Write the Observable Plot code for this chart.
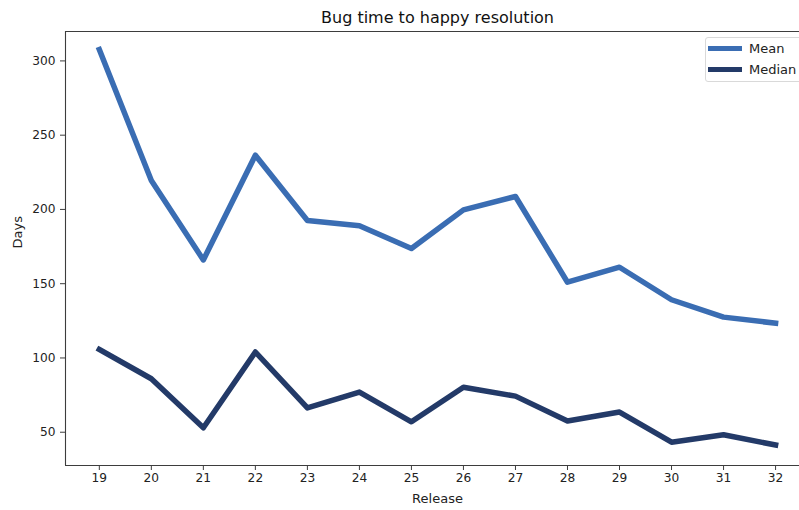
<!DOCTYPE html>
<html>
<head>
<meta charset="utf-8">
<script src="https://cdn.jsdelivr.net/npm/d3@7"></script>
<script src="https://cdn.jsdelivr.net/npm/@observablehq/plot@0.6"></script>
<style>
  html, body { margin: 0; padding: 0; background: #fff; overflow: hidden; }
  #wrap { position: relative; width: 799px; height: 510px; overflow: hidden; }
  #legend {
    position: absolute; left: 705px; top: 37px; width: 110px; height: 43px;
    border: 1px solid #d9d9d9; border-radius: 3px; background: rgba(255,255,255,0.8);
    font-family: "DejaVu Sans", sans-serif; font-size: 13px; color: #222;
  }
  .item { position: absolute; left: 0; height: 16px; display: flex; align-items: center; }
  .swatch { width: 34px; height: 5px; margin-left: 2px; margin-right: 7px; }
</style>
</head>
<body>
<div id="wrap">
  <div id="chart"></div>
  <div id="legend"></div>
</div>
<script>
const releases = [19, 20, 21, 22, 23, 24, 25, 26, 27, 28, 29, 30, 31, 32];
const meanDays = [307.6, 219.5, 166, 236.5, 192.5, 189, 173.7, 199.7, 208.7, 151, 161.1, 139.2, 127.5, 123.4];
const medianDays = [105.7, 86, 53, 104, 66.4, 77, 57, 80.3, 74.3, 57.6, 63.6, 43.3, 48.3, 41.4];
const seriesNames = ["Mean", "Median"];
const seriesColors = ["#3a6db3", "#233a68"];
const yTicks = [50, 100, 150, 200, 250, 300];
const xDomain = [18.35, 32.46];
const yDomain = [27.6, 319.8];
const titleText = "Bug time to happy resolution";
const xLabel = "Release";
const yLabel = "Days";

const rows = [];
releases.forEach((r, i) => {
  rows.push({release: r, days: meanDays[i], series: seriesNames[0]});
});
releases.forEach((r, i) => {
  rows.push({release: r, days: medianDays[i], series: seriesNames[1]});
});

const axisColor = "#3d3d3d";
const font = "DejaVu Sans, sans-serif";

const chart = Plot.plot({
  width: 799,
  height: 510,
  marginLeft: 65,
  marginRight: 0,
  marginTop: 31,
  marginBottom: 45,
  style: {fontFamily: font, fontSize: "12px", color: "#222", background: "#fff"},
  x: {domain: xDomain},
  y: {domain: yDomain},
  color: {domain: seriesNames, range: seriesColors},
  marks: [
    Plot.line(rows, {
      x: "release", y: "days", z: "series", stroke: "series",
      strokeWidth: 5.5, strokeLinejoin: "round", strokeLinecap: "square"
    }),
    Plot.ruleX([xDomain[0]], {stroke: axisColor, strokeWidth: 1.1}),
    Plot.ruleY([yDomain[0]], {stroke: axisColor, strokeWidth: 1.1}),
    Plot.ruleY([yDomain[1]], {stroke: axisColor, strokeWidth: 1.1}),
    Plot.axisX({ticks: releases, tickFormat: d => String(d), tickSize: 5, tickPadding: 3, label: null, stroke: axisColor, fill: "#222", fontSize: 12.2}),
    Plot.axisY({ticks: yTicks, tickFormat: d => String(d), tickSize: 5, tickPadding: 5, label: null, stroke: axisColor, fill: "#222", fontSize: 12.2}),
    Plot.text([titleText], {frameAnchor: "top", dy: -14, dx: 5, fontSize: 16, fill: "#111", lineAnchor: "middle"}),
    Plot.text([xLabel], {frameAnchor: "bottom", dy: 33, dx: 5, fontSize: 13, fill: "#222", lineAnchor: "middle"}),
    Plot.text([yLabel], {frameAnchor: "left", dx: -48, rotate: -90, fontSize: 13, fill: "#222", lineAnchor: "middle"})
  ]
});
document.getElementById("chart").appendChild(chart);

const legend = document.getElementById("legend");
seriesNames.forEach((name, i) => {
  const item = document.createElement("div");
  item.className = "item";
  item.style.top = (2 + i * 21) + "px";
  const sw = document.createElement("div");
  sw.className = "swatch";
  sw.style.background = seriesColors[i];
  const label = document.createElement("span");
  label.textContent = name;
  item.appendChild(sw);
  item.appendChild(label);
  legend.appendChild(item);
});
</script>
</body>
</html>
